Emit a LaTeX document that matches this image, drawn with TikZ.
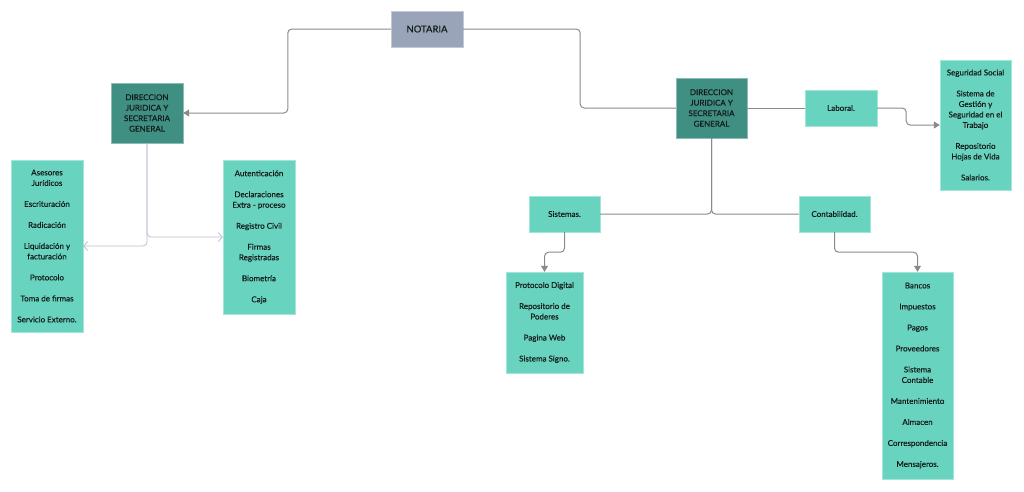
\documentclass[tikz,border=0pt]{standalone}
\usepackage{fontspec}
\setmainfont{Lato}[UprightFeatures={FakeBold=0.35}]
\usepackage{xcolor}
\definecolor{NotaGray}{HTML}{99A4B9}
\definecolor{DarkTeal}{HTML}{3F9083}
\definecolor{LightTeal}{HTML}{68D3BF}
\definecolor{TextDark}{HTML}{141C1B}
\definecolor{LineGray}{HTML}{8A8A8A}
\definecolor{LineBlue}{HTML}{B9BECC}
\usetikzlibrary{arrows.meta, positioning}
\tikzset{
  % Box styles
  topbox/.style={rectangle, draw=NotaGray!60!white, fill=NotaGray, text=TextDark, minimum width=72pt, minimum height=36pt, font=\fontsize{9.5}{11}\selectfont, align=center},
  headbox/.style={rectangle, draw=DarkTeal!60!white, fill=DarkTeal, text=TextDark, minimum width=72pt, minimum height=60pt, inner sep=2pt, font=\fontsize{8}{10.5}\selectfont, align=center},
  areabox/.style={rectangle, draw=LightTeal!60!white, fill=LightTeal, text=TextDark, minimum width=72pt, minimum height=36pt, inner sep=2pt, font=\fontsize{8}{10.5}\selectfont, align=center},
  % Arrow styles
  link/.style={LineGray, line width=1pt, rounded corners=4pt},
  arrow/.style={link, -{Triangle[length=6pt, width=7pt]}},
  thinarrow/.style={LineBlue, line width=0.8pt, rounded corners=4pt, -{Straight Barb[length=4pt, width=9pt]}}
}
\begin{document}
\begin{tikzpicture}[x=1pt, y=-1pt]
  \useasboundingbox (0,0) rectangle (1024,491);

  % Top
  \node[topbox] (notaria) at (427,29) {NOTARIA};

  % Left branch
  \node[headbox] (dirL) at (147,113) {DIRECCION\\JURIDICA Y\\SECRETARIA\\GENERAL};
  \node[areabox, minimum height=172pt] (juridico) at (47,246) {
    Asesores\\Jurídicos\\[10.5pt]
    Escrituración\\[10.5pt]
    Radicación\\[10.5pt]
    Liquidación y\\facturación\\[10.5pt]
    Protocolo\\[10.5pt]
    Toma de firmas\\[10.5pt]
    Servicio Externo.
  };
  \node[areabox, minimum height=154pt] (autent) at (259,237) {
    Autenticación\\[10.5pt]
    Declaraciones\\Extra - proceso\\[10.5pt]
    Registro Civil\\[10.5pt]
    Firmas\\Registradas\\[10.5pt]
    Biometría\\[10.5pt]
    Caja
  };

  % Right branch
  \node[headbox, minimum width=71pt] (dirR) at (711.5,108) {DIRECCION\\JURIDICA Y\\SECRETARIA\\GENERAL};
  \node[areabox] (laboral) at (841,108) {Laboral.};
  \node[areabox, minimum width=71pt, minimum height=130pt] (segur) at (975.5,125) {
    Seguridad Social\\[10.5pt]
    Sistema de\\Gestión y\\Seguridad en el\\Trabajo\\[10.5pt]
    Repositorio\\Hojas de Vida\\[10.5pt]
    Salarios.
  };
  \node[areabox, minimum width=71pt] (sistemas) at (564.5,214) {Sistemas.};
  \node[areabox, minimum width=71pt] (conta) at (834.5,214) {Contabilidad.};
  \node[areabox, minimum width=77pt, minimum height=101pt] (digital) at (544.5,322.5) {
    Protocolo Digital\\[10.5pt]
    Repositorio de\\Poderes\\[10.5pt]
    Pagina Web\\[10.5pt]
    Sistema Signo.
  };
  \node[areabox, minimum width=71pt, minimum height=207pt] (bancos) at (917.5,375.5) {
    Bancos\\[10.5pt]
    Impuestos\\[10.5pt]
    Pagos\\[10.5pt]
    Proveedores\\[10.5pt]
    Sistema\\Contable\\[10.5pt]
    Mantenimiento\\[10.5pt]
    Almacen\\[10.5pt]
    Correspondencia\\[10.5pt]
    Mensajeros.
  };

  % Connectors
  \draw[arrow] (notaria.west) -- ++(-103,0) |- (dirL.east);
  \draw[link] (notaria.east) -- ++(117,0) |- (dirR.west);
  \draw[thinarrow] (dirL.south) |- (juridico.east);
  \draw[thinarrow] (dirL.south) |- (autent.west);
  \draw[link] (dirR) -- (laboral);
  \draw[arrow] (laboral.east) -- ++(29,0) |- (segur.west);
  \draw[link] (dirR.south) |- (sistemas.east);
  \draw[link] (dirR.south) |- (conta.west);
  \draw[arrow] (sistemas.south) -- ++(0,20) -| (digital.north);
  \draw[arrow] (conta.south) -- ++(0,20) -| (bancos.north);
\end{tikzpicture}
\end{document}
